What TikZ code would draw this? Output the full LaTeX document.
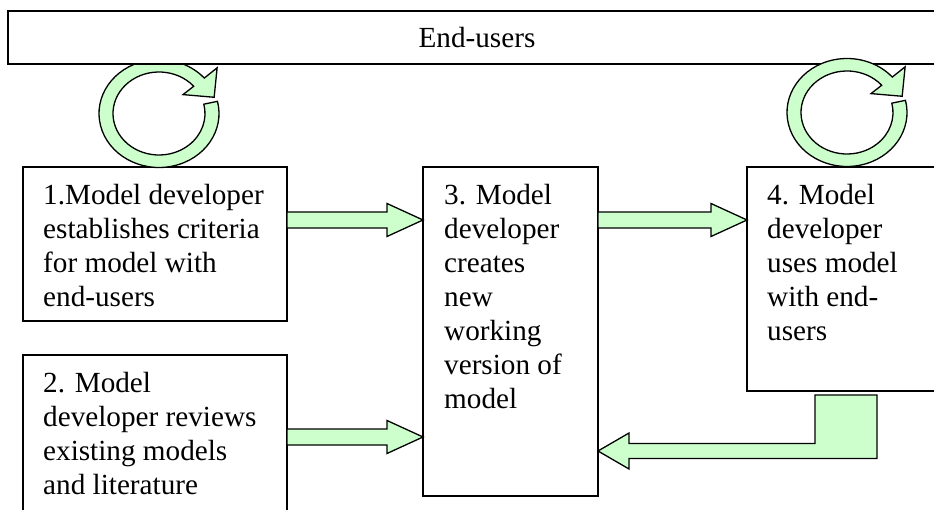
\documentclass[tikz,border=0pt]{standalone}
\usepackage{fontspec}
\setmainfont{Liberation Serif}
\usetikzlibrary{positioning, calc}
\definecolor{flowgreen}{RGB}{204,255,204}
\newcommand{\bodyfont}{\fontsize{29.2}{34}\selectfont}

% straight block arrow from #1 to #2 (same height)
\newcommand{\flowarrow}[2]{%
  \draw[flow] let \p1 = (#1), \p2 = (#2) in
    (\x1,\y1+8pt) -- (\x2-36pt,\y1+8pt) -- (\x2-36pt,\y1+16.5pt) -- (\x2,\y1)
    -- (\x2-36pt,\y1-16.5pt) -- (\x2-36pt,\y1-8pt) -- (\x1,\y1-8pt) -- cycle;}

\tikzset{
  pics/cyclearrow/.style={code={
    \draw[flow] (13:60 and 54) arc[start angle=13, end angle=-319, x radius=60, y radius=54]
      -- (41:77 and 69.6) -- (18:58 and 52.5) -- (41:31.8 and 28.8) -- (41:46 and 41.5)
      arc[start angle=-319, end angle=13, x radius=46, y radius=41.5] -- cycle;
  }}
}

\begin{document}
\begin{tikzpicture}[x=1pt, y=1pt,
    box/.style={draw, line width=1.5pt, fill=white, rectangle, outer sep=0pt, inner sep=0pt},
    txt/.style={anchor=north west, inner sep=0pt, align=left, font=\bodyfont},
    flow/.style={draw, line width=1.3pt, fill=flowgreen, line join=miter}]
        \useasboundingbox (0,0) rectangle (934,509);

        % Boxes
        \node[box, anchor=north west, minimum width=264pt, minimum height=154pt] (b1) at (23,342) {};
        \node[box, below=34pt of b1, minimum width=264pt, minimum height=165pt] (b2) {};
        \node[box, right=136pt of b1.north east, anchor=north west, minimum width=175pt, minimum height=329pt] (b3) {};
        \node[box, right=149pt of b3.north east, anchor=north west, minimum width=213pt, minimum height=224pt] (b4) {};

        % Loop arrows and the end-user band
        \pic at ([xshift=4pt, yshift=53.5pt]b1.north) {cyclearrow};
        \node[box, minimum width=938pt, minimum height=53pt, font=\bodyfont] (users) at (477,471.5) {End-users};
        \pic at ([xshift=100pt, yshift=54.5pt]b4.north west) {cyclearrow};

        % Arrows
        \coordinate (r1) at ([yshift=-53pt]b1.north east);
        \coordinate (r2) at ([yshift=-82pt]b2.north east);
        \flowarrow{r1}{r1 -| b3.west}
        \flowarrow{r2}{r2 -| b3.west}
        \flowarrow{r1 -| b3.east}{r1 -| b4.west}
        \coordinate (rt) at ([yshift=45pt]b3.south east);
        \draw[flow] let \p1 = (b4.south west), \p2 = (rt) in
            (\x1+130pt,\y1-4pt) -- (\x1+130pt,\y2-7.5pt) -- (\x2+31pt,\y2-7.5pt)
            -- (\x2+31pt,\y2-18pt) -- (\p2) -- (\x2+31pt,\y2+18pt) -- (\x2+31pt,\y2+7.5pt)
            -- (\x1+68pt,\y2+7.5pt) -- (\x1+68pt,\y1-4pt) -- cycle;

        % Texts
        \node[txt] (t1) at ([xshift=20pt, yshift=-13.2pt]b1.north west) {\strut 1.Model developer\\ establishes criteria\\ for model with\\ end-users};
        \node[txt] (t2) at ([xshift=20pt, yshift=-13.2pt]b2.north west) {\strut 2. Model\\ developer reviews\\ existing models\\ and literature};
        \node[txt] (t3) at ([xshift=21pt, yshift=-13.2pt]b3.north west) {\strut 3. Model\\ developer\\ creates\\ new\\ working\\ version of\\ model};
        \node[txt] (t4) at ([xshift=20pt, yshift=-13.2pt]b4.north west) {\strut 4. Model\\ developer\\ uses model\\ with end-\\ users};
    \end{tikzpicture}
\end{document}
